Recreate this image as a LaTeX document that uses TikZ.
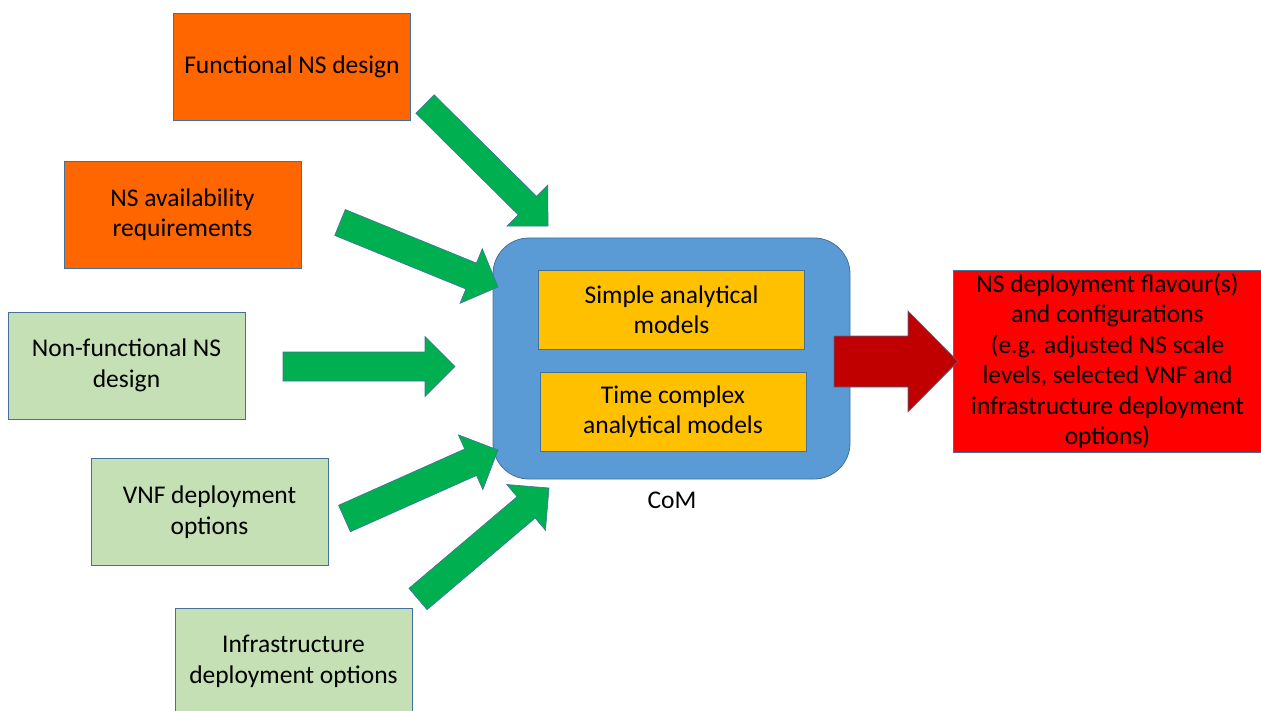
\documentclass[tikz,border=0pt]{standalone}
\usepackage{fontspec}
\setmainfont{Carlito}
\usetikzlibrary{calc}

\definecolor{nsorange}{RGB}{255,102,0}
\definecolor{nsgreen}{RGB}{197,224,180}
\definecolor{arrowgreen}{RGB}{0,176,80}
\definecolor{comblue}{RGB}{91,155,213}
\definecolor{edgeblue}{RGB}{65,113,156}
\definecolor{modelgold}{RGB}{255,192,0}
\definecolor{outred}{RGB}{255,0,0}
\definecolor{arrowred}{RGB}{192,0,0}

% block arrow: style, tail, tip, half shaft, half head, head length
\newcommand{\blockarrow}[6]{%
  \coordinate (#3neck) at ($(#3)!#6!(#2)$);
  \filldraw[#1] ($(#2)!#4!90:(#3)$) -- ($(#3neck)!#4!90:(#3)$)
    -- ($(#3neck)!#5!90:(#3)$) -- (#3) -- ($(#3neck)!#5!-90:(#3)$)
    -- ($(#3neck)!#4!-90:(#3)$) -- ($(#2)!#4!-90:(#3)$) -- cycle;
}

\tikzset{
  inbox/.style={draw=edgeblue, line width=0.8pt, minimum width=237pt,
    minimum height=107pt, inner sep=0pt, align=center,
    font=\fontsize{25.5}{30.5}\selectfont},
  reqbox/.style={inbox, fill=nsorange},
  optbox/.style={inbox, fill=nsgreen},
  modelbox/.style={inbox, fill=modelgold, minimum width=266pt, minimum height=79pt},
  garrow/.style={fill=arrowgreen, draw=edgeblue, line width=0.6pt, line join=miter},
  rarrow/.style={fill=arrowred, draw=edgeblue, line width=0.6pt, line join=miter}
}

\begin{document}
\begin{tikzpicture}[x=1pt, y=-1pt]
  \useasboundingbox (0,0) rectangle (1261,711);

  \node[reqbox] (fnsd) at (292,66.5) {Functional NS design};
  \node[reqbox] (avail) at (182.5,214.5) {NS availability\\requirements};
  \node[optbox] (nonfn) at (126.5,365.5) {Non-functional NS\\design};
  \node[optbox] (vnf) at (209.5,512) {VNF deployment\\options};
  \node[optbox] (infra) at (293.5,661.5) {Infrastructure\\deployment options};

  \node[draw=edgeblue, fill=comblue, line width=0.8pt, rounded corners=36pt,
    minimum width=357pt, minimum height=241pt] (com) at (671.5,358.5) {};
  \node[modelbox] (simple) at (671.5,309.5) {Simple analytical\\models};
  \node[modelbox] (timec) at (673,411.5) {Time complex\\analytical models};
  \node[font=\fontsize{25.5}{30.5}\selectfont] (comlbl) at (672,500) {CoM};

  \node[inbox, fill=outred, minimum width=309pt, minimum height=182pt]
    (out) at (1107.5,361) {NS deployment flavour(s)\\and configurations\\(e.g. adjusted NS scale\\levels, selected VNF and\\infrastructure deployment\\options)};

  \coordinate (a1s) at (425,104);   \coordinate (a1e) at (548,226);
  \coordinate (a2s) at (340,222.5); \coordinate (a2e) at (498,287);
  \coordinate (a3s) at (283,366.5); \coordinate (a3e) at (455,366.5);
  \coordinate (a4s) at (344.5,518.5); \coordinate (a4e) at (498,450);
  \coordinate (a5s) at (418,599);   \coordinate (a5e) at (549,488);
  \coordinate (ros) at (834,361.5); \coordinate (roe) at (958,361.5);

  \blockarrow{garrow}{a1s}{a1e}{13pt}{29pt}{29pt}
  \blockarrow{garrow}{a2s}{a2e}{14pt}{29.5pt}{29pt}
  \blockarrow{garrow}{a3s}{a3e}{14.5pt}{30pt}{30pt}
  \blockarrow{garrow}{a4s}{a4e}{14.5pt}{30pt}{30pt}
  \blockarrow{garrow}{a5s}{a5e}{14pt}{30pt}{30pt}
  \blockarrow{rarrow}{ros}{roe}{25.5pt}{50.5pt}{50pt}
\end{tikzpicture}
\end{document}
